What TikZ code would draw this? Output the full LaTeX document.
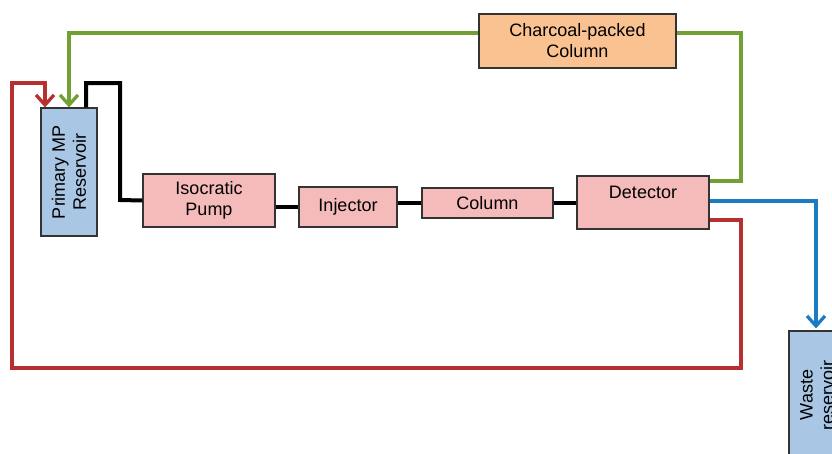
\documentclass[tikz,border=0pt]{standalone}
\usepackage{fontspec}
\setmainfont{Liberation Sans}
\usetikzlibrary{arrows.meta,calc}
\definecolor{resblue}{HTML}{A9C7E5}
\definecolor{boxpink}{HTML}{F5BABA}
\definecolor{boxorange}{HTML}{FBC291}
\definecolor{lgreen}{HTML}{72A032}
\definecolor{lred}{HTML}{B72F2F}
\definecolor{lblue}{HTML}{1C7CC2}
\definecolor{edge}{HTML}{333333}
\tikzset{
  box/.style={draw=edge, line width=1.2pt, inner sep=0pt, align=center},
  lbl/.style={font=\fontsize{18}{21}\selectfont, align=center, inner sep=0pt},
  pipe/.style={line width=3.3pt},
  blackpipe/.style={line width=4pt},
  tip/.style={-{Straight Barb[length=10pt,width=18pt,line width=3.3pt]}}
}
\begin{document}
\begin{tikzpicture}[x=1pt,y=-1pt]
\useasboundingbox (0,0) rectangle (832,453);
\clip (0,0) rectangle (832,453);
% nodes
\node[box, fill=resblue, minimum width=56pt, minimum height=128pt] (res) at (69,172) {};
\node[lbl, rotate=90] (restext) at (res.center) {Primary MP\\Reservoir};
\node[box, fill=resblue, minimum width=56pt, minimum height=128pt] (waste) at (817,395) {};
\node[lbl, rotate=90] (wastetext) at (waste.center) {Waste\\reservoir};
\node[box, fill=boxpink, minimum width=132pt, minimum height=53pt, lbl] (pump) at (209,200.5) {Isocratic\\Pump};
\node[box, fill=boxpink, minimum width=98pt, minimum height=40pt, lbl] (inj) at (348,207) {Injector};
\node[box, fill=boxpink, minimum width=131pt, minimum height=30pt, lbl] (col) at (487.5,203) {Column};
\node[box, fill=boxpink, minimum width=132pt, minimum height=53pt] (det) at (643,202.5) {};
\node[lbl] (dettext) at ($(det.north)+(0,17)$) {Detector};
\node[box, fill=boxorange, minimum width=197pt, minimum height=54pt, lbl] (char) at (577.5,41) {Charcoal-packed\\Column};
% coordinates
\coordinate (bA) at (86,83);
\coordinate (bB) at (120,83);
\coordinate (bC) at (120,200);
\coordinate (gA) at (741,181);
\coordinate (gB) at (741,33);
\coordinate (gC) at (69,33);
\coordinate (rA) at (741,220);
\coordinate (rB) at (741,368);
\coordinate (rC) at (12,368);
\coordinate (rD) at (12,83);
\coordinate (rE) at (45,83);
\coordinate (uA) at (816,201);
% black pipes
\draw[blackpipe] (res.north -| bA) -- (bA) -- (bB) -- (bC) -- (pump.west);
\draw[blackpipe] (pump.east |- inj.west) -- (inj.west);
\draw[blackpipe] (inj.east |- 0,203) -- (col.west);
\draw[blackpipe] (col.east) -- (det.west |- col.east);
% green
\draw[pipe, lgreen] (det.east |- gA) -- (gA) -- (gB) -- (char.east |- gB);
\draw[pipe, lgreen, tip] (char.west |- gC) -- (gC) -- (res.north -| gC);
% red
\draw[pipe, lred, tip] (det.east |- rA) -- (rA) -- (rB) -- (rC) -- (rD) -- (rE) -- (res.north -| rE);
% blue
\draw[pipe, lblue, tip] (det.east |- uA) -- (uA) -- ($(waste.north -| uA)+(0,-2)$);
\end{tikzpicture}
\end{document}
